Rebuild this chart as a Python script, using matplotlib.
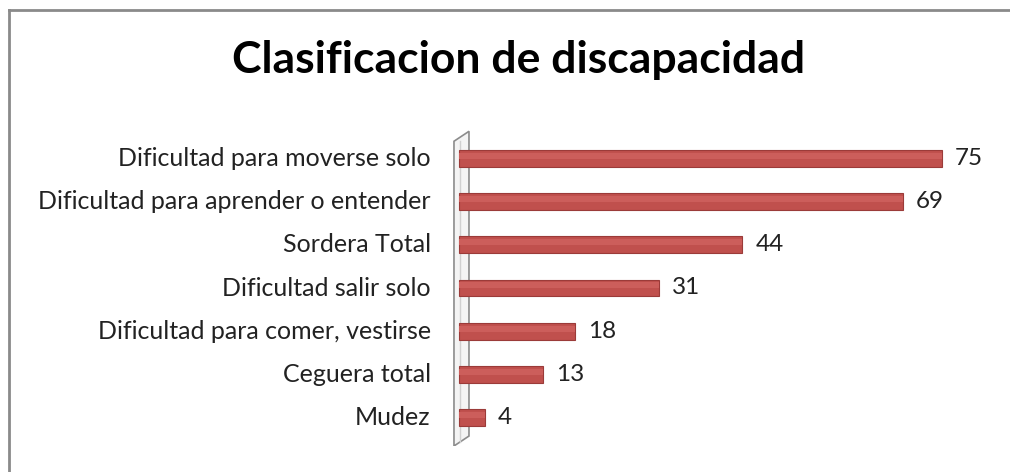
import numpy as np
import matplotlib.pyplot as plt
from matplotlib.patches import Polygon
from matplotlib.lines import Line2D

categorias = ["Dificultad para moverse solo", "Dificultad para aprender o entender",
              "Sordera Total", "Dificultad salir solo", "Dificultad para comer, vestirse",
              "Ceguera total", "Mudez"]
valores = [75, 69, 44, 31, 18, 13, 4]

plt.rcParams['font.family'] = ['Lato', 'DejaVu Sans']

W, H = 1010, 472
fig = plt.figure(figsize=(W / 100, H / 100), dpi=100)

# ejes: x=0 en px 459, 6.44 px por unidad; filas cada 43.3 px
px_u = 6.44
x0, x1 = -1.2, 85
left = 459 + x0 * px_u
right = 459 + x1 * px_u
top, bottom = 130, 446
ax = fig.add_axes([left / W, 1 - bottom / H, (right - left) / W, (bottom - top) / H])
ax.set_xlim(x0, x1)
ax.set_ylim(6.65, -0.65)
ax.axis('off')

y = np.arange(len(categorias))

# pared 3D
pared = Polygon([(-0.78, -0.39), (1.55, -0.62), (1.55, 6.42), (-0.78, 6.65)],
                closed=True, facecolor='#f4f4f4', edgecolor='#8c8c8c', lw=1.2, zorder=1)
ax.add_patch(pared)
ax.plot([0.1, 0.1], [-0.4, 6.55], color='#d0d0d0', lw=1, zorder=1)

# barras
ax.barh(y, valores, height=0.39, color='#c0504d', edgecolor='#9b3b39', lw=0.8, zorder=3)
ax.barh(y - 0.06, valores, height=0.14, color='#cc5e5b', lw=0, zorder=4)

for yi, v in zip(y, valores):
    ax.text(v + 2.0, yi, str(v), va='center', ha='left', fontsize=17.5, color='#222222')
    ax.text(-1.2 - 3.2, yi, categorias[yi], va='center', ha='right', fontsize=18,
            color='#222222', clip_on=False)

fig.text(519 / W, 1 - 60 / H, "Clasificacion de discapacidad", ha='center', va='center',
         fontsize=32, fontweight='bold', color='black')

# marco (solo arriba e izquierda visibles)
fig.add_artist(Line2D([9 / W, 9 / W], [0, 1 - 10 / H], transform=fig.transFigure,
                      color='#8a8a8a', lw=2))
fig.add_artist(Line2D([9 / W, 1], [1 - 10 / H, 1 - 10 / H], transform=fig.transFigure,
                      color='#8a8a8a', lw=2))

fig.savefig('out.png', dpi=100, facecolor='white')
